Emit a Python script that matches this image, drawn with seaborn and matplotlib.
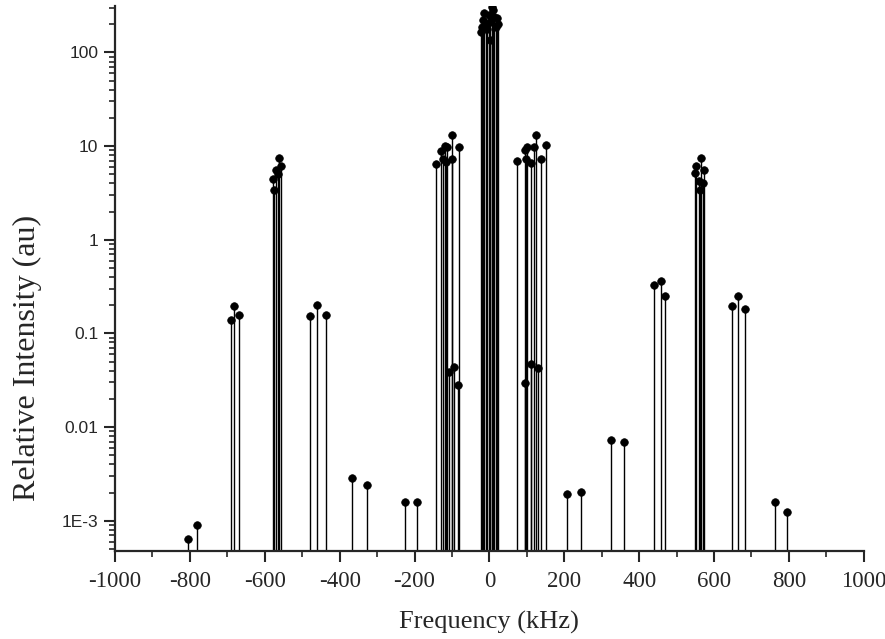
import numpy as np
import pandas as pd
import matplotlib
matplotlib.use("Agg")
import matplotlib.pyplot as plt
import seaborn as sns
from matplotlib.ticker import MultipleLocator, LogLocator, FuncFormatter, NullFormatter

# === DATA ===
# central carrier cluster
center_freq = [-22.5, -20.6, -18, -13.6, -10, -6, -1, 1.6, 2, 6, 9, 12, 17, 19, 22]
center_int = [164, 188, 222, 265, 200, 180, 251, 213, 136, 308, 284, 240, 188, 232, 200]

# first sidebands (+/- 80..150 kHz)
side1_freq = [-143, -130, -125, -118, -112, -116, -99, -99, -81,
              -108, -95, -83,
              74, 94.5, 100.7, 99, 112, 118.6, 125.8, 137, 150,
              94, 110, 131]
side1_int = [6.5, 8.9, 7.3, 10.1, 9.8, 6.7, 13.0, 7.3, 9.7,
             0.039, 0.0437, 0.0279,
             6.9, 9.0, 9.7, 7.2, 6.6, 9.7, 13.0, 7.3, 10.2,
             0.0297, 0.047, 0.043]

# sidebands at +/- 565 kHz
side2_freq = [-563, -558, -570, -578, -576, -566,
              566.5, 552, 572, 550, 559.6, 570, 562]
side2_int = [7.4, 6.1, 5.6, 4.4, 3.4, 5.0,
             7.4, 6.1, 5.6, 5.2, 4.2, 4.0, 3.4]

# weak lines
weak_freq = [-806, -780, -689.5, -681, -670, -480, -460.5, -435.6,
             -366, -325.8, -225, -193,
             207.8, 245, 324.8, 358.8, 439, 457.8, 470,
             648.7, 664.8, 681.7, 763, 794]
weak_int = [0.000646, 0.000895, 0.138, 0.195, 0.158, 0.155, 0.203, 0.156,
            0.00284, 0.00241, 0.00159, 0.00159,
            0.00192, 0.00205, 0.00722, 0.00692, 0.332, 0.366, 0.252,
            0.195, 0.252, 0.181, 0.00159, 0.00125]

df = pd.DataFrame({
    "freq": center_freq + side1_freq + side2_freq + weak_freq,
    "intensity": center_int + side1_int + side2_int + weak_int,
})

Y_MIN, Y_MAX = 4.7e-4, 315

# === PLOT ===
sns.set_style("ticks")
plt.rcParams["font.family"] = ["Liberation Serif", "DejaVu Serif"]
plt.rcParams["axes.unicode_minus"] = False

fig = plt.figure(figsize=(8.85, 6.39), dpi=100)
ax = fig.add_axes([0.130, 0.137, 0.846, 0.854])

ax.set_yscale("log")
ax.vlines(df["freq"], Y_MIN, df["intensity"], color="black", linewidth=1.0, zorder=2)
sns.scatterplot(data=df, x="freq", y="intensity", ax=ax, color="black",
                s=30, edgecolor="black", linewidth=0.5, zorder=3, legend=False)

ax.set_xlim(-1000, 1000)
ax.set_ylim(Y_MIN, Y_MAX)

ax.xaxis.set_major_locator(MultipleLocator(200))
ax.xaxis.set_minor_locator(MultipleLocator(100))
ax.yaxis.set_major_locator(LogLocator(base=10, numticks=12))
ax.yaxis.set_minor_locator(LogLocator(base=10, subs=np.arange(2, 10), numticks=12))
ax.yaxis.set_minor_formatter(NullFormatter())

ylabels = {100: "100", 10: "10", 1: "1", 0.1: "0.1", 0.01: "0.01", 0.001: "1E-3"}
ax.yaxis.set_major_formatter(FuncFormatter(
    lambda v, pos: ylabels.get(round(v, 6), "")))

ax.tick_params(axis="both", which="major", direction="out", length=8, width=1.5)
ax.tick_params(axis="both", which="minor", direction="out", length=4, width=1.2)
ax.tick_params(axis="x", labelsize=16.5, pad=6)
ax.tick_params(axis="y", labelsize=12.5, pad=4)
for lab in ax.get_yticklabels():
    lab.set_family(["Liberation Sans", "DejaVu Sans"])

for s in ["left", "bottom"]:
    ax.spines[s].set_linewidth(1.6)
sns.despine(ax=ax)

ax.set_xlabel("Frequency (kHz)", fontsize=19, labelpad=14)
ax.set_ylabel("Relative Intensity (au)", fontsize=23)
ax.yaxis.set_label_coords(-0.097, 0.355)

fig.savefig("out.png", dpi=100, facecolor="white")
